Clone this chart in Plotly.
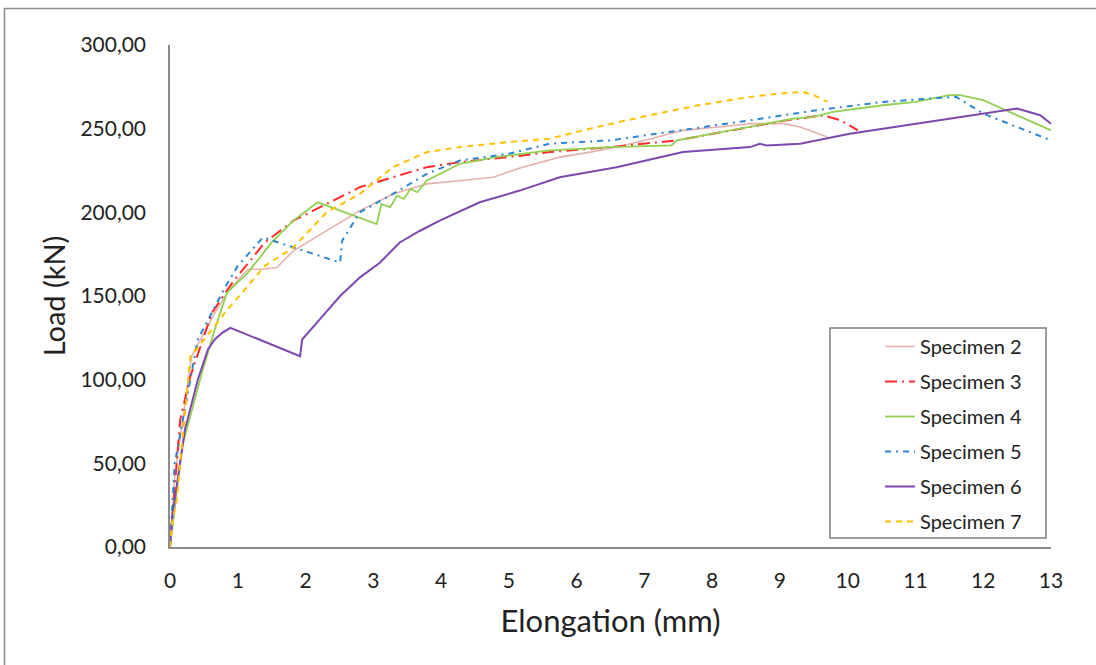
import plotly.graph_objects as go

# ---------------- data ----------------
names = ["Specimen 2", "Specimen 3", "Specimen 4", "Specimen 5", "Specimen 6", "Specimen 7"]

s2_x = [0, 0.07, 0.32, 0.66, 0.9, 1.15, 1.35, 1.58, 1.82, 2.31, 2.8, 3.29, 3.79, 4.3, 4.77, 5.2, 5.75, 6.2, 6.59, 7.1, 7.57, 8.1, 8.56, 9.05, 9.3, 9.7]
s2_y = [0, 42, 114, 140, 155, 166, 166, 167, 177, 189, 201, 211, 217, 219, 221, 227, 233, 236, 239, 244, 249, 251, 253, 253, 251, 245]

s3_x = [0, 0.15, 0.3, 0.62, 0.92, 1.4, 1.82, 2.31, 2.8, 3.29, 3.79, 4.28, 5.0, 5.6, 6.5, 7.48, 8.0, 8.56, 9.1, 9.64, 9.9, 10.15]
s3_y = [0, 76, 102, 140, 158, 182, 195, 205, 215, 221, 227, 230, 233, 236, 239, 243, 247, 251, 255, 258, 255, 249]

s4_x = [0, 0.18, 0.47, 0.66, 0.84, 1.15, 1.5, 1.82, 2.18, 3.05, 3.12, 3.25, 3.35, 3.45, 3.55, 3.65, 3.79, 4.28, 4.8, 5.6, 6.5, 7.4, 7.48, 8.0, 8.56, 9.2, 9.5, 9.78, 10.52, 11.0, 11.5, 11.66, 12.0, 12.5, 13.0]
s4_y = [0, 60, 104, 130, 152, 164, 182, 195, 206, 193, 205, 203, 210, 208, 214, 212, 219, 229, 233, 237, 239, 240, 243, 247, 251, 256, 257, 260, 264, 266, 270, 270, 267, 258, 249]

s5_x = [0, 0.07, 0.41, 0.81, 1.0, 1.37, 2.51, 2.54, 2.8, 3.29, 3.79, 4.28, 5.0, 5.6, 6.5, 7.57, 8.56, 9.54, 10.52, 11.2, 11.6, 12.0, 12.5, 13.0]
s5_y = [0, 50, 124, 155, 168, 185, 170, 183, 200, 211, 223, 231, 235, 241, 243, 249, 255, 261, 266, 268, 269, 259, 251, 243]

s6_x = [0, 0.04, 0.22, 0.41, 0.56, 0.66, 0.77, 0.89, 1.92, 1.95, 2.21, 2.51, 2.8, 3.1, 3.39, 3.69, 3.98, 4.57, 5.16, 5.75, 6.59, 7.57, 8.56, 8.7, 8.8, 9.3, 10.03, 11.02, 12.0, 12.5, 12.84, 13.0]
s6_y = [0, 20, 70, 100, 118, 124, 128, 131, 114, 124, 136, 150, 161, 170, 182, 189, 195, 206, 213, 221, 227, 236, 239, 241, 240, 241, 247, 253, 259, 262, 258, 253]

s7_x = [0, 0.03, 0.1, 0.3, 0.41, 0.81, 1.4, 1.82, 2.31, 2.8, 3.29, 3.79, 4.28, 5.0, 5.6, 6.3, 7.08, 7.8, 8.56, 9.0, 9.34, 9.5, 9.7]
s7_y = [0, 14, 28, 114, 119, 140, 168, 179, 200, 211, 227, 236, 239, 242, 244, 251, 258, 264, 269, 271, 272, 270, 266]

y_ticks = [0, 50, 100, 150, 200, 250, 300]
x_ticks = list(range(0, 14))

# ---------------- styles ----------------
xs = [s2_x, s3_x, s4_x, s5_x, s6_x, s7_x]
ys = [s2_y, s3_y, s4_y, s5_y, s6_y, s7_y]
colors = ["#E6B1AC", "#FF2A2A", "#92D050", "#2E86D0", "#7E47B0", "#FFC000"]
dashes = ["solid", "12px,5px,2px,5px", "solid", "6px,5px,2px,5px", "solid", "6px,5px"]
widths = [1.6, 2, 1.8, 2, 2, 2]

FONT = "Lato, 'Open Sans', sans-serif"

fig = go.Figure()
for n, x, y, c, d, w in zip(names, xs, ys, colors, dashes, widths):
    fig.add_trace(go.Scatter(x=x, y=y, name=n, mode="lines", legendgroup=n,
                             line=dict(color=c, dash=d, width=w)))

W, H = 1096, 665
L, R, T, B = 170, 45, 45, 118
pw, ph = W - L - R, H - T - B

def px2paper_x(px):
    return (px - L) / pw

def px2paper_y(py):
    return (H - B - py) / ph

fig.update_layout(
    width=W, height=H,
    margin=dict(l=L, r=R, t=T, b=B),
    paper_bgcolor="white", plot_bgcolor="white",
    separators=", ",
    font=dict(family=FONT, color="#222222"),
    showlegend=True,
    legend=dict(x=px2paper_x(880), y=px2paper_y(327), xanchor="left", yanchor="top",
                bgcolor="rgba(0,0,0,0)", borderwidth=0,
                font=dict(family=FONT, size=20, color="#222222"),
                traceorder="grouped", tracegroupgap=6),
    xaxis=dict(range=[0, 13], tickvals=x_ticks, showgrid=False, zeroline=False,
               showline=True, linecolor="#8C8C8C", linewidth=1.5, ticks="",
               ticklabelstandoff=14, tickfont=dict(size=21),
               title=dict(text="Elongation (mm)", font=dict(size=31), standoff=19)),
    yaxis=dict(range=[0, 300], tickvals=y_ticks, tickformat=".2f", showgrid=False,
               zeroline=False, showline=True, linecolor="#8C8C8C", linewidth=1.5,
               ticks="", ticklabelstandoff=18, tickfont=dict(size=21),
               title=dict(text="Load (kN)", font=dict(size=29), standoff=6)),
    shapes=[
        # legend box
        dict(type="rect", xref="paper", yref="paper",
             x0=px2paper_x(830), x1=px2paper_x(1046), y0=px2paper_y(538), y1=px2paper_y(328),
             line=dict(color="#7F7F7F", width=1.5), fillcolor="rgba(0,0,0,0)", layer="below"),
        # outer chart border
        dict(type="rect", xref="paper", yref="paper",
             x0=px2paper_x(4.5), x1=px2paper_x(1110), y0=px2paper_y(680), y1=px2paper_y(8.5),
             line=dict(color="#8C8C8C", width=1.5), fillcolor="rgba(0,0,0,0)"),
    ],
)

fig.write_html("out.html", config={"displayModeBar": False},
               post_script="document.body.style.margin='0';")
